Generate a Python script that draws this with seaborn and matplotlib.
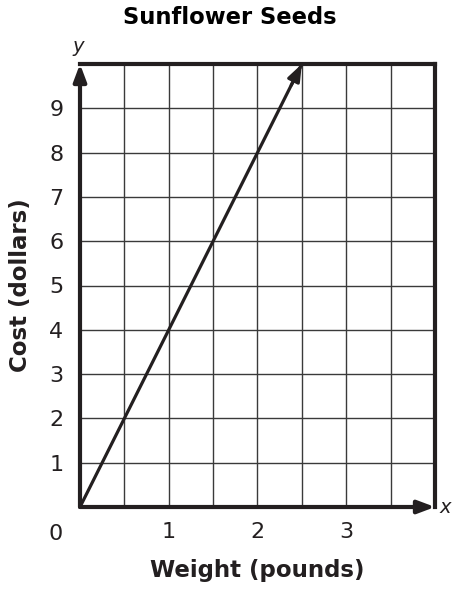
import matplotlib
matplotlib.use("Agg")
import matplotlib.pyplot as plt
import seaborn as sns
import pandas as pd
import numpy as np

weight = [0, 2.5]
cost = [0, 10]
x_ticks = [1, 2, 3]
y_ticks = [1, 2, 3, 4, 5, 6, 7, 8, 9]
title = "Sunflower Seeds"
xlabel = "Weight (pounds)"
ylabel = "Cost (dollars)"

sns.set_theme(style="white")
plt.rcParams['font.family'] = ['DejaVu Sans']

fig = plt.figure(figsize=(4.6, 5.94), dpi=100)
ax = fig.add_axes([80/460, 1-507/594, 355/460, 443/594])

df = pd.DataFrame({"w": weight, "c": cost})
ink = "#231f20"
head = "-|>,head_length=0.85,head_width=0.32"
sns.lineplot(data=df, x="w", y="c", ax=ax, color=ink, linewidth=2.3)
ax.annotate("", xy=(weight[1], cost[1]), xytext=(weight[1]-0.12, cost[1]-0.48),
            arrowprops=dict(arrowstyle=head, color=ink, lw=2.3,
                            shrinkA=0, shrinkB=0), annotation_clip=False)

ax.set_xlim(0, 4)
ax.set_ylim(0, 10)
ax.set_xticks(x_ticks)
ax.set_xticks(np.arange(0.5, 4, 0.5), minor=True)
ax.set_yticks(y_ticks)
ax.set_xticklabels([str(v) for v in x_ticks])
ax.set_yticklabels([str(v) for v in y_ticks])
ax.grid(True, which="both", color="#3a3a3a", linewidth=1.0)
ax.set_axisbelow(True)
ax.tick_params(axis="both", which="both", length=0, labelsize=16, colors=ink)
ax.tick_params(axis="x", pad=11)
ax.tick_params(axis="y", pad=12)

for s in ["top", "right"]:
    ax.spines[s].set_color(ink)
    ax.spines[s].set_linewidth(3)
for s in ["left", "bottom"]:
    ax.spines[s].set_visible(False)

ax.annotate("", xy=(0, 10), xytext=(0, 0),
            arrowprops=dict(arrowstyle=head, color=ink, lw=3,
                            shrinkA=0, shrinkB=0), annotation_clip=False)
ax.annotate("", xy=(4, 0), xytext=(0, 0),
            arrowprops=dict(arrowstyle=head, color=ink, lw=3,
                            shrinkA=0, shrinkB=0), annotation_clip=False)

ax.text(-0.02, 10.18, "y", style="italic", fontsize=14, color=ink, ha="center", va="bottom")
ax.text(4.05, -0.02, "x", style="italic", fontsize=14, color=ink, ha="left", va="center")
ax.text(-0.27, -0.62, "0", fontsize=16, color=ink, ha="center", va="center")

ax.set_xlabel(xlabel, fontsize=16.5, fontweight="bold", color=ink, va="center")
ax.set_ylabel(ylabel, fontsize=16.5, fontweight="bold", color=ink, va="center")
ax.xaxis.set_label_coords(0.5, (507-571)/443)
ax.yaxis.set_label_coords((21-80)/355, 0.5)
fig.text(230/460, 1-18/594, title, fontsize=16.3, fontweight="bold", color="black", ha="center", va="center")

fig.savefig("out.png", dpi=100)
